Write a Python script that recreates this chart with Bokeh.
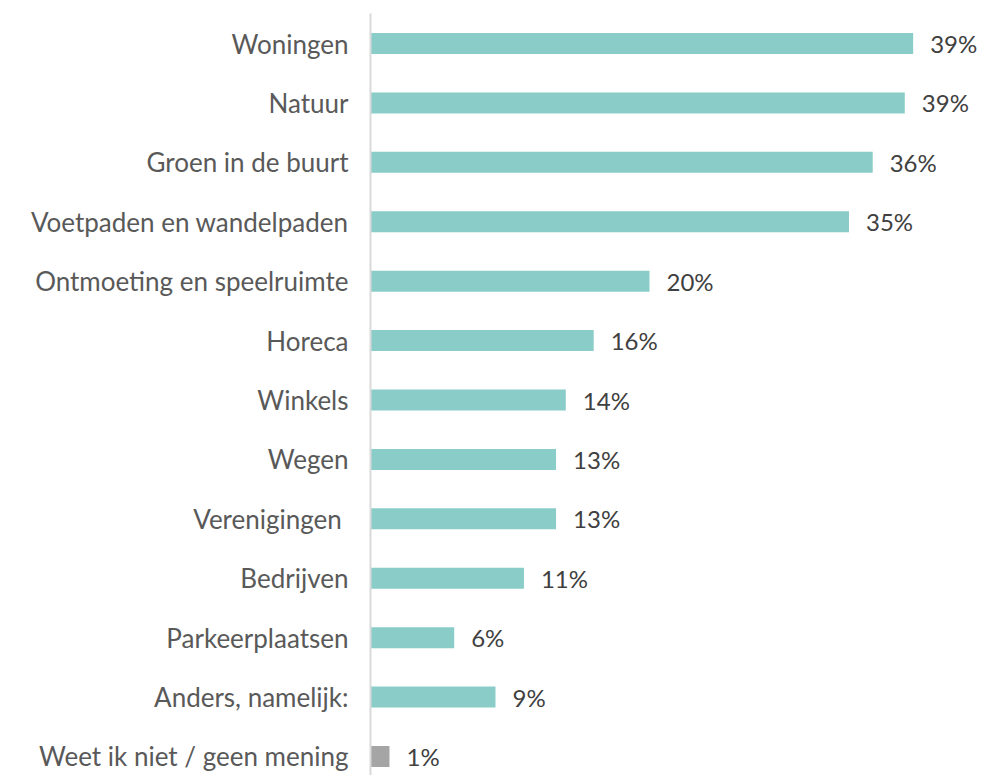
from bokeh.plotting import figure
from bokeh.models import ColumnDataSource, FixedTicker
from bokeh.core.properties import value
from bokeh.embed import file_html
from bokeh.resources import INLINE

categories = ["Woningen", "Natuur", "Groen in de buurt", "Voetpaden en wandelpaden",
              "Ontmoeting en speelruimte", "Horeca", "Winkels", "Wegen", "Verenigingen ",
              "Bedrijven", "Parkeerplaatsen", "Anders, namelijk:", "Weet ik niet / geen mening"]
values = [38.9, 38.3, 36.0, 34.3, 20.0, 16.0, 14.0, 13.3, 13.3, 11.0, 6.0, 8.96, 1.36]
value_labels = ["39%", "39%", "36%", "35%", "20%", "16%", "14%", "13%", "13%", "11%", "6%", "9%", "1%"]
colors = ["#8ACCC8"] * 12 + ["#A5A5A5"]

n = len(categories)
ypos = [n - 1 - i for i in range(n)]

src = ColumnDataSource(dict(y=ypos, v=values, lab=value_labels, c=colors))

W, H = 982, 775
left, top = 370, 13
px_per_unit = 59.4
px_per_pct = 13.95
y_end = 12 + (43 - top) / px_per_unit
y_start = 0 - (H - 756) / px_per_unit
x_end = (W - left) / px_per_pct

p = figure(width=W, height=H, output_backend="svg", toolbar_location=None,
           x_range=(0, x_end), y_range=(y_start, y_end),
           min_border_left=left, min_border_right=0, min_border_top=top, min_border_bottom=0)

p.hbar(y="y", left=0, right="v", height=0.354, color="c", line_color=None, source=src)
p.text(x="v", y="y", text="lab", source=src, x_offset=17, text_align="left",
       text_baseline="middle", text_font=value("Lato"), text_font_size="24px",
       text_color="#404040")

p.xaxis.visible = False
p.xgrid.visible = False
p.ygrid.visible = False
p.outline_line_color = None

ax = p.yaxis[0]
ax.ticker = FixedTicker(ticks=ypos)
ax.major_label_overrides = {y: c for y, c in zip(ypos, categories)}
ax.major_tick_line_color = None
ax.minor_tick_line_color = None
ax.major_label_standoff = 16
ax.major_label_text_font = "Lato"
ax.major_label_text_font_size = "26px"
ax.major_label_text_color = "#595959"
ax.axis_line_color = "#D9D9D9"
ax.axis_line_width = 2

open("out.html", "w").write(file_html(p, INLINE))
